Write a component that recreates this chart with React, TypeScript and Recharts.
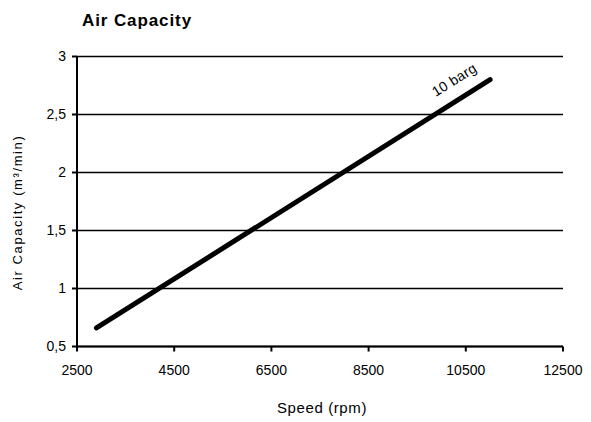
import React from "react";
import { LineChart, Line, XAxis, YAxis, CartesianGrid } from "recharts";

const speeds = [2900, 11000];
const capacity = [0.66, 2.8];
const seriesName = "10 barg";
const xTicks = [2500, 4500, 6500, 8500, 10500, 12500];
const yTicks = [0.5, 1, 1.5, 2, 2.5, 3];
const title = "Air Capacity";
const xLabel = "Speed (rpm)";
const yLabel = "Air Capacity (m³/min)";

const data = speeds.map((s, i) => ({ speed: s, cap: capacity[i] }));

const FONT = "'Liberation Sans', Arial, sans-serif";

const fmtY = (v: number) => String(v).replace(".", ",");

const renderSeriesLabel = (props: any) => {
  const { x, y, index } = props;
  if (index !== data.length - 1) return null;
  const cx = x - 36;
  const cy = y;
  return (
    <text
      x={cx}
      y={cy}
      transform={`rotate(-32, ${cx}, ${cy})`}
      textAnchor="middle"
      dominantBaseline="central"
      fontFamily={FONT}
      fontSize={14}
      letterSpacing={0.3}
      fill="#000"
    >
      {seriesName}
    </text>
  );
};

export default function App() {
  return (
    <div style={{ position: "absolute", left: 0, top: 0, width: 591, height: 422, background: "#fff" }}>
      <LineChart
        width={591}
        height={422}
        data={data}
        margin={{ top: 56.5, right: 28, bottom: 0, left: 0 }}
        style={{ fontFamily: FONT }}
      >
        <text x={82} y={26} fontFamily={FONT} fontSize={17} fontWeight="bold" letterSpacing={0.9} fill="#000">
          {title}
        </text>
        <CartesianGrid horizontal vertical={false} stroke="#000" strokeWidth={1.5} />
        <XAxis
          dataKey="speed"
          type="number"
          domain={[2500, 12500]}
          ticks={xTicks}
          interval={0}
          height={75.5}
          stroke="#000"
          strokeWidth={2}
          tickSize={5}
          tickMargin={14}
          tick={{ fill: "#000", fontSize: 14, fontFamily: FONT }}
          label={(p: any) => {
            const vb = p.viewBox;
            return (
              <text
                x={vb.x + vb.width / 2 + 2}
                y={407}
                textAnchor="middle"
                dominantBaseline="central"
                fontFamily={FONT}
                fontSize={15}
                letterSpacing={0.6}
                fill="#000"
              >
                {xLabel}
              </text>
            );
          }}
        />
        <YAxis
          type="number"
          domain={[0.5, 3]}
          ticks={yTicks}
          interval={0}
          width={77}
          stroke="#000"
          strokeWidth={2}
          tickSize={5}
          tickMargin={6}
          tickFormatter={fmtY}
          tick={{ fill: "#000", fontSize: 14, fontFamily: FONT }}
          label={(p: any) => {
            const vb = p.viewBox;
            const cx = 17;
            const cy = vb.y + vb.height / 2 + 11;
            return (
              <text
                x={cx}
                y={cy}
                transform={`rotate(-90, ${cx}, ${cy})`}
                textAnchor="middle"
                dominantBaseline="central"
                fontFamily={FONT}
                fontSize={13}
                letterSpacing={1.6}
                fill="#000"
              >
                {yLabel}
              </text>
            );
          }}
        />
        <Line
          dataKey="cap"
          stroke="#000"
          strokeWidth={5}
          strokeLinecap="round"
          dot={false}
          isAnimationActive={false}
          label={renderSeriesLabel}
        />
      </LineChart>
    </div>
  );
}
